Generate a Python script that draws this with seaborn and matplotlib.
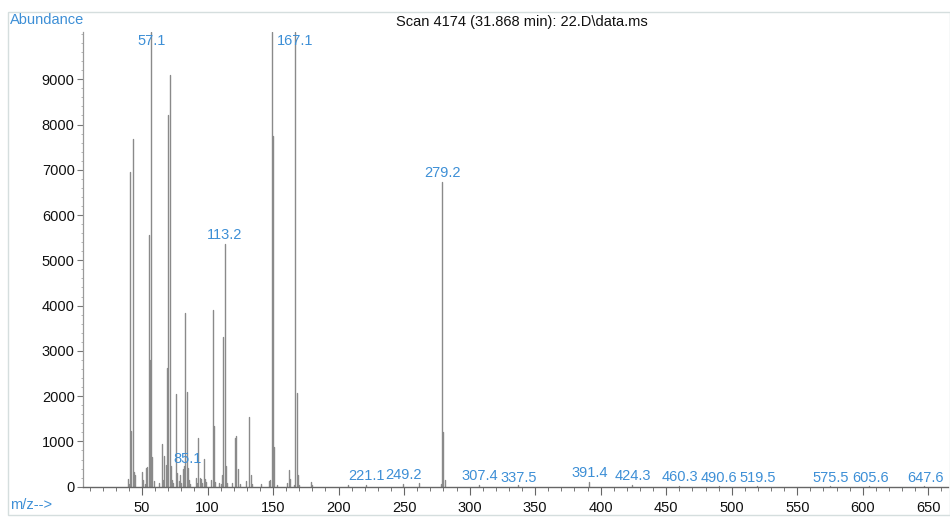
import numpy as np
import pandas as pd
import matplotlib
matplotlib.use("Agg")
import matplotlib.pyplot as plt
import seaborn as sns
from matplotlib.patches import Rectangle
from matplotlib.ticker import MultipleLocator, FixedLocator

# ---- data ----
mz = [39, 40, 41, 42, 43, 44, 45, 50, 51, 52, 53, 54, 55, 56, 57, 58, 59, 63,
      65, 66, 67, 68, 69, 70, 71, 72, 73, 74, 76, 77, 78, 79, 80, 81, 82, 83,
      84, 85, 86, 87, 91, 92, 93, 94, 95, 96, 97, 98, 99, 103, 104, 105, 106,
      109, 110, 111, 112, 113, 114, 115, 119, 121, 122, 123, 125, 129, 132,
      133, 134, 141, 147, 148, 149, 150, 151, 153, 161, 162, 163, 166, 167,
      168, 169, 170, 179, 180, 207, 221, 249, 261, 278, 279, 280, 281, 307,
      337, 391, 424, 460, 490, 519, 575, 605, 647]
abundance = [180, 60, 6950, 1230, 7680, 320, 250, 330, 150, 60, 420, 440, 5550,
             2800, 10050, 650, 120, 80, 950, 150, 680, 480, 2620, 8200, 9100,
             450, 150, 80, 2050, 300, 120, 250, 80, 400, 450, 3830, 2100, 420,
             150, 60, 200, 80, 1070, 200, 160, 80, 620, 160, 100, 150, 3900,
             1350, 100, 80, 60, 250, 3300, 5350, 450, 80, 80, 1080, 1130, 380,
             50, 120, 1550, 250, 60, 50, 120, 150, 10050, 7750, 880, 40, 80,
             370, 180, 40, 10050, 2080, 250, 40, 110, 40, 30, 40, 50, 90, 60,
             6720, 1210, 150, 40, 30, 110, 30, 20, 20, 20, 20, 20, 20]
peak_labels = ["57.1", "85.1", "113.2", "167.1", "221.1", "249.2", "279.2",
               "307.4", "337.5", "391.4", "424.3", "460.3", "490.6", "519.5",
               "575.5", "605.6", "647.6"]
x_ticks = [50, 100, 150, 200, 250, 300, 350, 400, 450, 500, 550, 600, 650]
y_ticks = [0, 1000, 2000, 3000, 4000, 5000, 6000, 7000, 8000, 9000]
title_text = "Scan 4174 (31.868 min): 22.D\\data.ms"

# long-form table: each peak is a vertical segment from 0 to its abundance
rows = []
for i, (m, a) in enumerate(zip(mz, abundance)):
    rows.append({"peak": i, "mz": m, "ab": 0.0, "order": 0})
    rows.append({"peak": i, "mz": m, "ab": a, "order": 1})
df = pd.DataFrame(rows)

sns.set_theme(style="white")
plt.rcParams["font.family"] = ["Liberation Sans", "DejaVu Sans"]

W, H = 950, 517
fig = plt.figure(figsize=(W / 100, H / 100), dpi=100)
ax = fig.add_axes([83 / W, (H - 486.7) / H, (948 - 83) / W, (486.7 - 31.7) / H])

YTOP = 10050
sns.lineplot(data=df, x="mz", y="ab", units="peak", estimator=None,
             sort=False, color="#8a8a8a", linewidth=1.0, ax=ax, legend=False)

ax.set_xlim(5, 665)
ax.set_ylim(0, YTOP)
ax.set_xlabel("")
ax.set_ylabel("")

for s in ["top", "right"]:
    ax.spines[s].set_visible(False)
ax.spines["left"].set_color("#9a9a9a")
ax.spines["bottom"].set_color("#666666")
ax.spines["left"].set_linewidth(0.9)
ax.spines["bottom"].set_linewidth(1.0)

ax.xaxis.set_major_locator(FixedLocator(x_ticks))
ax.xaxis.set_minor_locator(MultipleLocator(10))
ax.yaxis.set_major_locator(FixedLocator(y_ticks))
ax.yaxis.set_minor_locator(MultipleLocator(200))
ax.tick_params(axis="x", which="major", direction="out", length=6, width=0.8,
               color="#666666", labelsize=10.5, labelcolor="#111111", pad=4, bottom=True)
ax.tick_params(axis="x", which="minor", direction="out", length=3, width=0.7,
               color="#777777", bottom=True)
ax.tick_params(axis="y", which="major", direction="out", length=4, width=0.8,
               color="#777777", labelsize=10.5, labelcolor="#111111", pad=2, left=True)
ax.tick_params(axis="y", which="minor", direction="out", length=1.5, width=0.6,
               color="#aaaaaa", left=True)

blue = "#3d8fd6"
lookup = dict(zip(mz, abundance))
for lab in peak_labels:
    m = float(lab)
    a = lookup.get(int(round(m)), 0)
    if a >= YTOP:
        ax.text(m, 9850, lab, color=blue, fontsize=10.5, ha="center", va="center")
    else:
        ax.annotate(lab, xy=(m, a), xytext=(0, 1.5), textcoords="offset points",
                    color=blue, fontsize=10.5, ha="center", va="bottom")

# frame and figure texts
fig.patches.append(Rectangle((8 / W, (H - 515) / H), (W - 8) / W - 0.0005, (515 - 12) / H,
                             transform=fig.transFigure, fill=False,
                             edgecolor="#d5dede", linewidth=1.0))
fig.text(10 / W, (H - 20) / H, "Abundance", color=blue, fontsize=10.5,
         ha="left", va="center")
fig.text(396 / W, (H - 22) / H, title_text, color="#111111", fontsize=10.5,
         ha="left", va="center")
fig.text(10 / W, (H - 505) / H, "m/z-->", color=blue, fontsize=10.5,
         ha="left", va="center")

fig.savefig("out.png", dpi=100)
